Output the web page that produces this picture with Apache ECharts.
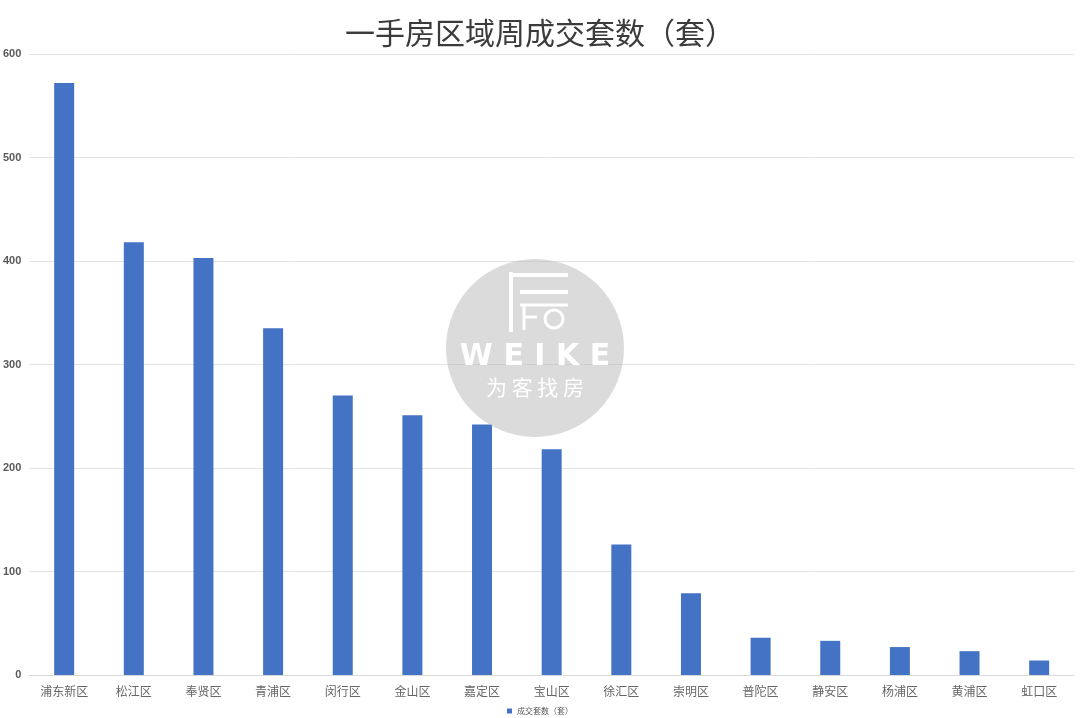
<!DOCTYPE html>
<html><head><meta charset="utf-8">
<script src="https://cdn.jsdelivr.net/npm/echarts@6/dist/echarts.min.js"></script>
<style>html,body{margin:0;padding:0;background:#fff}#c{width:1080px;height:718px}</style>
</head><body><div id="c"></div>
<script>
var categories = ['浦东新区','松江区','奉贤区','青浦区','闵行区','金山区','嘉定区','宝山区','徐汇区','崇明区','普陀区','静安区','杨浦区','黄浦区','虹口区'];
var values = [572, 418, 403, 335, 270, 251, 242, 218, 126, 79, 36, 33, 27, 23, 14];
var seriesName = '成交套数（套）';
var titleText = '一手房区域周成交套数（套）';

var chart = echarts.init(document.getElementById('c'), null, {renderer:'canvas'});
var W = '#ffffff';
chart.setOption({
  backgroundColor:'#ffffff',
  animation:false,
  title:{text:titleText,left:'center',top:13,textStyle:{fontFamily:'Noto Sans CJK SC',fontSize:30,fontWeight:'normal',color:'#3b3b3b'}},
  legend:{bottom:-2,left:'center',itemWidth:5,itemHeight:5,icon:'rect',textStyle:{fontSize:8,color:'#595959',fontFamily:'Noto Sans CJK SC'},data:[seriesName]},
  grid:{left:28,right:6,top:54,bottom:43},
  xAxis:{type:'category',data:categories,axisTick:{show:false},
    axisLine:{lineStyle:{color:'#d9d9d9'}},
    axisLabel:{color:'#666666',fontSize:12,margin:10,fontFamily:'Noto Sans CJK SC',interval:0}},
  yAxis:{type:'value',min:0,max:600,interval:100,
    axisLine:{show:false},axisTick:{show:false},
    splitLine:{lineStyle:{color:'#e3e3e3'}},
    axisLabel:{color:'#595959',fontSize:11,fontWeight:'bold',margin:8,fontFamily:'Liberation Sans'}},
  series:[{name:seriesName,type:'bar',data:values,barWidth:20,itemStyle:{color:'#4472C4'}}],
  graphic:[
    {type:'circle',shape:{cx:535,cy:348,r:89},style:{fill:'rgba(190,190,190,0.55)'},z:100},
    {type:'line',shape:{x1:511,y1:272,x2:511,y2:332},style:{stroke:W,lineWidth:4},z:101},
    {type:'line',shape:{x1:511,y1:275,x2:568,y2:275},style:{stroke:W,lineWidth:4},z:101},
    {type:'line',shape:{x1:520,y1:292,x2:568,y2:292},style:{stroke:W,lineWidth:4},z:101},
    {type:'line',shape:{x1:520,y1:305,x2:568,y2:305},style:{stroke:W,lineWidth:3},z:101},
    {type:'line',shape:{x1:524,y1:305,x2:524,y2:330},style:{stroke:W,lineWidth:3},z:101},
    {type:'line',shape:{x1:524,y1:317,x2:537,y2:317},style:{stroke:W,lineWidth:3},z:101},
    {type:'circle',shape:{cx:554,cy:319,r:9},style:{fill:'none',stroke:W,lineWidth:3},z:101},
    {type:'text',style:{text:'W E I K E',x:535,y:357,textAlign:'center',textVerticalAlign:'middle',fill:W,font:'bold 30px "DejaVu Sans"'},z:101},
    {type:'text',style:{text:'为 客 找 房',x:535,y:387,textAlign:'center',textVerticalAlign:'middle',fill:W,font:'21px "Noto Sans CJK SC"'},z:101}
  ]
});
</script></body></html>
